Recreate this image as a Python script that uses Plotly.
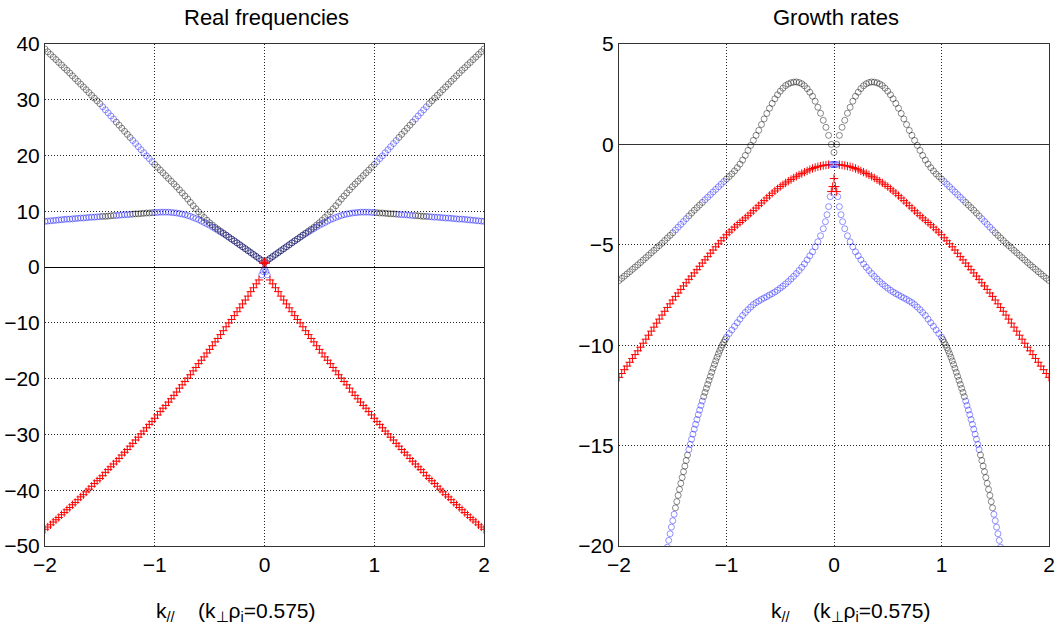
import numpy as np
import plotly.graph_objects as go

# ---------------- data (k >= 0 half, mirrored) ----------------
k_grid = np.round(np.arange(0, 2.0 + 1e-9, 0.025), 4)      # 0 .. 2
k_grid_red = k_grid[2:]                                      # 0.05 .. 2

# Real frequencies
freq_upper = [0.85, 1.2, 1.55, 1.9, 2.25, 2.6, 2.95, 3.3, 3.65, 4.0,
              4.35, 4.7, 5.05, 5.4, 5.75, 6.1, 6.45, 6.8, 7.15, 7.55,
              7.95, 8.4, 8.9, 9.4, 9.9, 10.45, 11.0, 11.6, 12.2, 12.75,
              13.3, 13.85, 14.4, 14.9, 15.4, 15.9, 16.4, 16.9, 17.4, 17.9,
              18.4, 18.9, 19.45, 19.95, 20.5, 21.05, 21.6, 22.15, 22.7, 23.25,
              23.8, 24.35, 24.9, 25.45, 26.0, 26.55, 27.1, 27.65, 28.2, 28.75,
              29.3, 29.8, 30.3, 30.8, 31.3, 31.8, 32.3, 32.8, 33.3, 33.8,
              34.3, 34.8, 35.3, 35.75, 36.25, 36.7, 37.2, 37.65, 38.15, 38.6,
              39.1]
freq_lower = [0.85, 1.2, 1.55, 1.9, 2.25, 2.6, 2.95, 3.3, 3.65, 4.0,
              4.35, 4.7, 5.0, 5.35, 5.7, 6.0, 6.3, 6.6, 6.9, 7.2,
              7.5, 7.75, 8.0, 8.25, 8.5, 8.7, 8.9, 9.1, 9.25, 9.4,
              9.5, 9.6, 9.7, 9.75, 9.8, 9.85, 9.85, 9.85, 9.85, 9.8,
              9.8, 9.75, 9.7, 9.7, 9.65, 9.6, 9.55, 9.55, 9.5, 9.45,
              9.4, 9.4, 9.35, 9.3, 9.25, 9.25, 9.2, 9.15, 9.1, 9.1,
              9.05, 9.0, 8.95, 8.95, 8.9, 8.85, 8.8, 8.8, 8.75, 8.7,
              8.65, 8.6, 8.6, 8.55, 8.5, 8.45, 8.4, 8.35, 8.3, 8.25,
              8.2]
freq_red = [-2.3, -3.0, -3.7, -4.4, -5.2, -5.9, -6.6, -7.3,
            -8.0, -8.7, -9.4, -10.0, -10.7, -11.4, -12.1, -12.8, -13.4, -14.1,
            -14.75, -15.4, -16.1, -16.7, -17.3, -18.0, -18.6, -19.3, -19.9, -20.5,
            -21.1, -21.7, -22.4, -23.0, -23.6, -24.2, -24.8, -25.3, -25.9, -26.5,
            -27.1, -27.7, -28.2, -28.8, -29.4, -29.9, -30.5, -31.0, -31.6, -32.1,
            -32.7, -33.2, -33.7, -34.3, -34.8, -35.3, -35.8, -36.3, -36.8, -37.4,
            -37.9, -38.3, -38.8, -39.3, -39.8, -40.3, -40.8, -41.2, -41.7, -42.2,
            -42.6, -43.1, -43.5, -44.0, -44.4, -44.9, -45.3, -45.7, -46.2, -46.6,
            -47.0]
freq_core_blue_k = [0.0, 0.0125, 0.025]
freq_core_blue = [-0.3, -0.8, -1.4]
freq_core_red_k = [0.0, 0.0125]
freq_core_red = [0.9, 0.7]

# Growth rates
growth_upper = [-0.4, 0.0, 0.45, 0.85, 1.2, 1.55, 1.85, 2.15, 2.4, 2.6,
                2.78, 2.92, 3.02, 3.08, 3.11, 3.1, 3.07, 3.01, 2.93, 2.8,
                2.65, 2.47, 2.27, 2.04, 1.8, 1.54, 1.27, 0.99, 0.7, 0.45,
                0.2, -0.05, -0.3, -0.55, -0.78, -0.98, -1.16, -1.32, -1.47, -1.6,
                -1.72, -1.85, -1.98, -2.11, -2.24, -2.37, -2.5, -2.63, -2.76, -2.89,
                -3.02, -3.15, -3.28, -3.42, -3.56, -3.7, -3.84, -3.98, -4.12, -4.26,
                -4.4, -4.53, -4.66, -4.79, -4.92, -5.04, -5.16, -5.28, -5.4, -5.52,
                -5.64, -5.76, -5.88, -6.0, -6.11, -6.22, -6.34, -6.45, -6.56, -6.67,
                -6.78]
growth_red = [-1.01, -1.03, -1.05, -1.08, -1.11, -1.15, -1.2, -1.26,
              -1.32, -1.38, -1.45, -1.52, -1.59, -1.67, -1.75, -1.83, -1.92, -2.01,
              -2.1, -2.21, -2.32, -2.43, -2.55, -2.67, -2.8, -2.92, -3.05, -3.17,
              -3.3, -3.42, -3.55, -3.66, -3.78, -3.89, -4.0, -4.12, -4.25, -4.37,
              -4.5, -4.65, -4.8, -4.95, -5.1, -5.26, -5.42, -5.59, -5.75, -5.91,
              -6.07, -6.24, -6.4, -6.56, -6.72, -6.89, -7.05, -7.22, -7.4, -7.57,
              -7.75, -7.94, -8.12, -8.31, -8.5, -8.7, -8.9, -9.1, -9.3, -9.5,
              -9.7, -9.9, -10.1, -10.28, -10.47, -10.66, -10.85, -11.04, -11.22, -11.41,
              -11.6]
growth_core_k = [0.0, 0.0125, 0.025]
growth_core_blue = [-1.0, -1.0, -1.0]
growth_core_red = [-1.7, -2.1, -2.35]
growth_lower_k = ([0.035, 0.05, 0.065, 0.08]
                  + list(np.round(np.arange(0.1, 1.0 + 1e-9, 0.025), 4))
                  + list(np.round(np.arange(1.0125, 1.575 + 1e-9, 0.0125), 4)))
growth_lower = [-2.6, -3.1, -3.5, -3.85,
                -4.2, -4.55, -4.85, -5.1, -5.35, -5.55, -5.75, -5.95, -6.12, -6.28,
                -6.43, -6.57, -6.7, -6.83, -6.95, -7.06, -7.16, -7.26, -7.35, -7.43,
                -7.5, -7.58, -7.65, -7.72, -7.8, -7.88, -7.98, -8.1, -8.23, -8.37,
                -8.52, -8.7, -8.88, -9.06, -9.24, -9.42, -9.6,
                -9.72, -9.85, -9.98, -10.12, -10.27, -10.43, -10.6, -10.78, -10.96, -11.15,
                -11.35, -11.55, -11.75, -11.95, -12.15, -12.35, -12.56, -12.78, -13.0, -13.23,
                -13.46, -13.7, -13.94, -14.18, -14.43, -14.68, -14.94, -15.2, -15.47, -15.74,
                -16.02, -16.3, -16.59, -16.88, -17.18, -17.48, -17.79, -18.1, -18.42, -18.74,
                -19.06, -19.39, -19.72, -20.06, -20.4, -20.75]

# |k| ranges where the two circle branches swap colour
swap_ranges = [(1.0, 1.22), (1.35, 1.485)]

# ---------------- helpers ----------------
GRAY = "rgba(0,0,0,0.45)"
BLUE = "rgba(0,0,255,0.42)"
RED = "rgb(255,0,0)"
FONT = "Liberation Sans, Arial, Helvetica, sans-serif"


def mirror(k, v):
    k = np.asarray(k, dtype=float)
    v = np.asarray(v, dtype=float)
    if k[0] == 0:
        return np.concatenate([-k[:0:-1], k]), np.concatenate([v[:0:-1], v])
    return np.concatenate([-k[::-1], k]), np.concatenate([v[::-1], v])


def seg_colors(kk, inside, outside):
    a = np.abs(kk)
    out = []
    for x in a:
        hit = any(lo < x <= hi for lo, hi in swap_ranges)
        out.append(inside if hit else outside)
    return out


def circles(kk, vv, colors, xa, ya):
    return go.Scatter(x=kk, y=vv, mode="markers", xaxis=xa, yaxis=ya,
                      marker=dict(symbol="circle-open", size=6, color=colors,
                                  line=dict(width=1)),
                      hoverinfo="skip", showlegend=False)


def crosses(kk, vv, xa, ya, color=RED):
    return go.Scatter(x=kk, y=vv, mode="markers", xaxis=xa, yaxis=ya,
                      marker=dict(symbol="cross-thin-open", size=6, color=color,
                                  line=dict(width=1, color=color)),
                      hoverinfo="skip", showlegend=False)


fig = go.Figure()

# ---- left: real frequencies ----
k, v = mirror(k_grid, freq_lower)
fig.add_trace(circles(k, v, seg_colors(k, GRAY, BLUE), "x", "y"))
k, v = mirror(k_grid, freq_upper)
fig.add_trace(circles(k, v, seg_colors(k, BLUE, GRAY), "x", "y"))
k, v = mirror(k_grid_red, freq_red)
fig.add_trace(crosses(k, v, "x", "y"))
k, v = mirror(freq_core_blue_k, freq_core_blue)
fig.add_trace(circles(k, v, BLUE, "x", "y"))
k, v = mirror(freq_core_red_k, freq_core_red)
fig.add_trace(crosses(k, v, "x", "y"))

# ---- right: growth rates ----
k, v = mirror(growth_lower_k, growth_lower)
fig.add_trace(circles(k, v, seg_colors(k, GRAY, BLUE), "x2", "y2"))
k, v = mirror(k_grid, growth_upper)
fig.add_trace(circles(k, v, seg_colors(k, BLUE, GRAY), "x2", "y2"))
k, v = mirror(k_grid_red, growth_red)
fig.add_trace(crosses(k, v, "x2", "y2"))
k, v = mirror(growth_core_k, growth_core_red)
fig.add_trace(crosses(k, v, "x2", "y2"))
k, v = mirror(growth_core_k, growth_core_blue)
fig.add_trace(circles(k, v, BLUE, "x2", "y2"))

W, H = 1060, 639
axis_common = dict(showgrid=True, griddash="1px,2px", gridcolor="rgba(0,0,0,0.85)", gridwidth=1,
                   showline=True, mirror=True, linecolor="#333333", linewidth=1,
                   ticks="", automargin=False,
                   tickfont=dict(family=FONT, size=21, color="black"))
ydom = [1 - 546 / H, 1 - 44 / H]

fig.update_layout(
    width=W, height=H,
    margin=dict(l=0, r=0, t=0, b=0, pad=0),
    paper_bgcolor="white", plot_bgcolor="white",
    showlegend=False,
    xaxis=dict(domain=[45 / W, 484 / W], range=[-2, 2], dtick=1, tick0=0,
               zeroline=False, anchor="y", **axis_common),
    yaxis=dict(domain=ydom, range=[-50, 40], dtick=10, tick0=0,
               zeroline=True, zerolinecolor="black", zerolinewidth=1,
               anchor="x", **axis_common),
    xaxis2=dict(domain=[619 / W, 1049 / W], range=[-2, 2], dtick=1, tick0=0,
                zeroline=False, anchor="y2", **axis_common),
    yaxis2=dict(domain=ydom, range=[-20, 5], dtick=5, tick0=0,
                zeroline=True, zerolinecolor="#333333", zerolinewidth=1,
                anchor="x2", **axis_common),
    annotations=[
        dict(text="Real frequencies", x=266 / W, y=1 - 17 / H, xref="paper", yref="paper",
             showarrow=False, xanchor="center", yanchor="middle",
             font=dict(family=FONT, size=22, color="black")),
        dict(text="Growth rates", x=836 / W, y=1 - 17 / H, xref="paper", yref="paper",
             showarrow=False, xanchor="center", yanchor="middle",
             font=dict(family=FONT, size=22, color="black")),
        dict(text="k<sub>//</sub>    (k<sub>⊥</sub>ρ<sub>i</sub>=0.575)",
             x=236 / W, y=1 - 612 / H, xref="paper", yref="paper",
             showarrow=False, xanchor="center", yanchor="middle",
             font=dict(family=FONT, size=21, color="black")),
        dict(text="k<sub>//</sub>    (k<sub>⊥</sub>ρ<sub>i</sub>=0.575)",
             x=851 / W, y=1 - 612 / H, xref="paper", yref="paper",
             showarrow=False, xanchor="center", yanchor="middle",
             font=dict(family=FONT, size=21, color="black")),
    ],
)

fig.write_html("out.html")
